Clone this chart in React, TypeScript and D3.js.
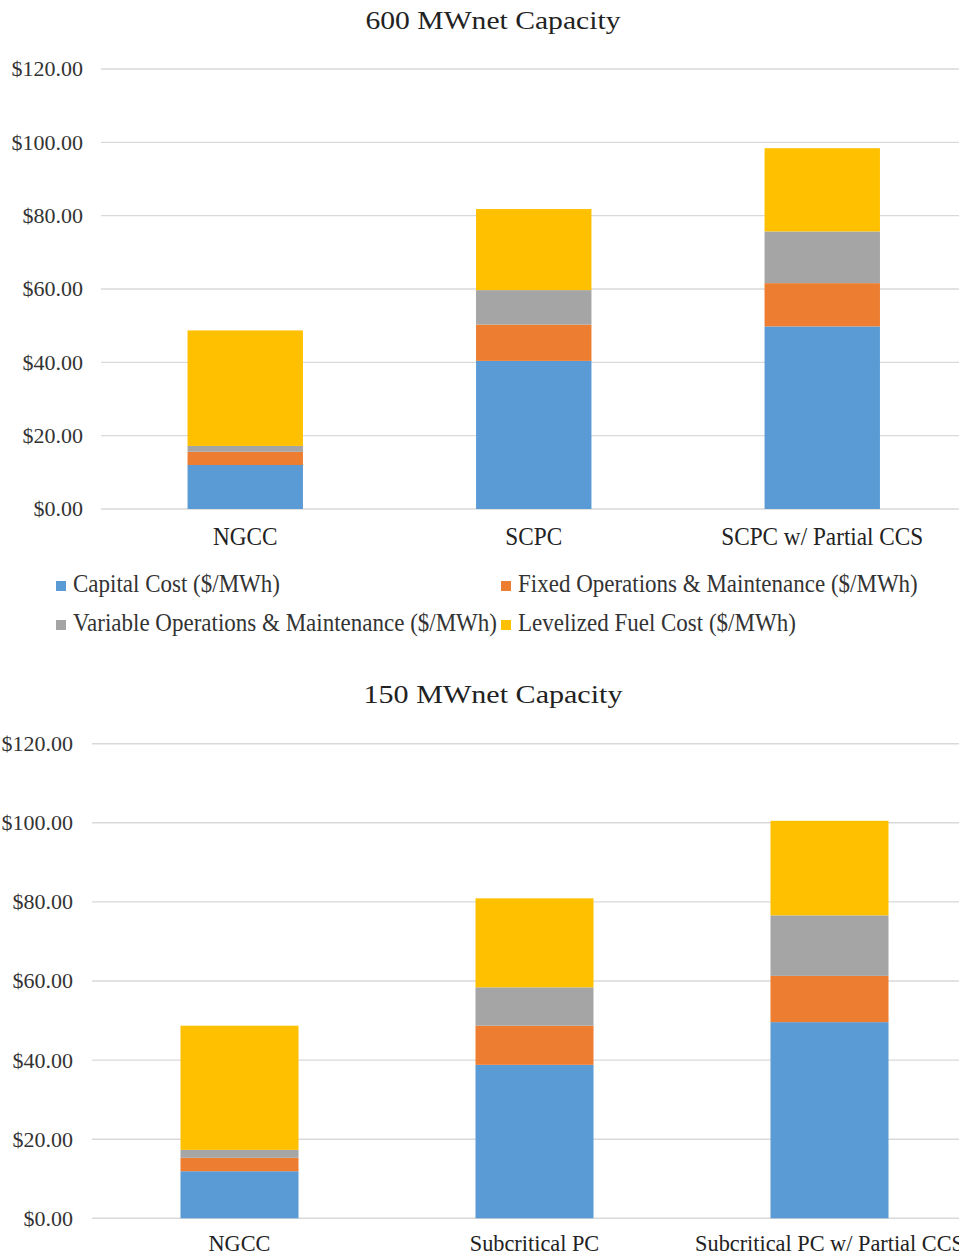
import React from "react";
import * as d3 from "d3";

const seriesNames = [
  "Capital Cost ($/MWh)",
  "Fixed Operations & Maintenance ($/MWh)",
  "Variable Operations & Maintenance ($/MWh)",
  "Levelized Fuel Cost ($/MWh)",
];
const seriesColors = ["#5B9BD5", "#ED7D31", "#A5A5A5", "#FFC000"];
const yTicks = [0, 20, 40, 60, 80, 100, 120];

const title600 = "600 MWnet  Capacity";
const categories600 = ["NGCC", "SCPC", "SCPC w/ Partial CCS"];
const capital600 = [12.0, 40.4, 49.8];
const fixedOM600 = [3.6, 9.9, 11.8];
const variableOM600 = [1.6, 9.4, 14.1];
const fuel600 = [31.5, 22.1, 22.7];

const title150 = "150 MWnet  Capacity";
const categories150 = ["NGCC", "Subcritical PC", "Subcritical PC w/ Partial CCS"];
const capital150 = [11.9, 38.8, 49.6];
const fixedOM150 = [3.4, 9.9, 11.7];
const variableOM150 = [2.0, 9.7, 15.3];
const fuel150 = [31.4, 22.5, 23.9];

const FONT = "'Liberation Serif', 'Times New Roman', serif";
const fmt = d3.format("$.2f");

type Layout = {
  titleY: number;
  titleLen: number;
  y0: number;
  y1: number;
  xL: number;
  xR: number;
  gridR: number;
  labelR: number;
  catY: number;
  catSize: number;
};

function Chart({
  title,
  categories,
  series,
  L,
}: {
  title: string;
  categories: string[];
  series: number[][];
  L: Layout;
}) {
  const rows = categories.map((c, i) => {
    const r: any = { cat: c };
    series.forEach((s, k) => (r["s" + k] = s[i]));
    return r;
  });
  const keys = series.map((_, k) => "s" + k);
  const stacked = d3.stack().keys(keys)(rows);
  const y = d3.scaleLinear().domain([0, 120]).range([L.y0, L.y1]);
  const x = d3
    .scaleBand()
    .domain(categories)
    .range([L.xL, L.xR])
    .paddingInner(0.6)
    .paddingOuter(0.3);
  return (
    <g>
      <text
        x={493}
        y={L.titleY}
        textAnchor="middle"
        fontFamily={FONT}
        fontSize={25}
        fill="#222"
        textLength={L.titleLen}
        lengthAdjust="spacingAndGlyphs"
      >
        {title}
      </text>
      {yTicks.map((t) => (
        <g key={t}>
          <line
            x1={L.xL}
            x2={L.gridR}
            y1={y(t)}
            y2={y(t)}
            stroke="#d9d9d9"
            strokeWidth={1.4}
          />
          <text
            x={L.labelR}
            y={y(t)}
            dy="0.34em"
            textAnchor="end"
            fontFamily={FONT}
            fontSize={22}
            fill="#333"
          >
            {fmt(t)}
          </text>
        </g>
      ))}
      {stacked.map((s, k) => (
        <g key={k} fill={seriesColors[k]}>
          {s.map((d: any, i) => (
            <rect
              key={i}
              x={x(categories[i])}
              width={x.bandwidth()}
              y={y(d[1])}
              height={y(d[0]) - y(d[1])}
            />
          ))}
        </g>
      ))}
      {categories.map((c) => (
        <g
          key={c}
          transform={`translate(${(x(c) as number) + x.bandwidth() / 2},${L.catY}) scale(0.93,1)`}
        >
          <text textAnchor="middle" fontFamily={FONT} fontSize={L.catSize} fill="#222">
            {c}
          </text>
        </g>
      ))}
    </g>
  );
}

const legendPos = [
  { x: 56, y: 592 },
  { x: 501, y: 592 },
  { x: 56, y: 631 },
  { x: 501, y: 631 },
];

export default function App() {
  return (
    <svg
      width={959}
      height={1257}
      style={{ position: "absolute", left: 0, top: 0, background: "#fff" }}
    >
      <rect width={959} height={1257} fill="#fff" />
      <Chart
        title={title600}
        categories={categories600}
        series={[capital600, fixedOM600, variableOM600, fuel600]}
        L={{
          titleY: 29,
          titleLen: 255,
          y0: 509,
          y1: 69,
          xL: 101,
          xR: 966.5,
          gridR: 959,
          labelR: 83,
          catY: 545,
          catSize: 25,
        }}
      />
      {seriesNames.map((n, k) => (
        <g key={n}>
          <rect
            x={legendPos[k].x}
            y={legendPos[k].y - 11}
            width={10}
            height={10}
            fill={seriesColors[k]}
          />
          <g transform={`translate(${legendPos[k].x + 17},${legendPos[k].y}) scale(0.92,1)`}>
            <text fontFamily={FONT} fontSize={25} fill="#333">
              {n}
            </text>
          </g>
        </g>
      ))}
      <Chart
        title={title150}
        categories={categories150}
        series={[capital150, fixedOM150, variableOM150, fuel150]}
        L={{
          titleY: 703,
          titleLen: 259,
          y0: 1218.3,
          y1: 743.7,
          xL: 92,
          xR: 977,
          gridR: 959,
          labelR: 73,
          catY: 1251,
          catSize: 24,
        }}
      />
    </svg>
  );
}
